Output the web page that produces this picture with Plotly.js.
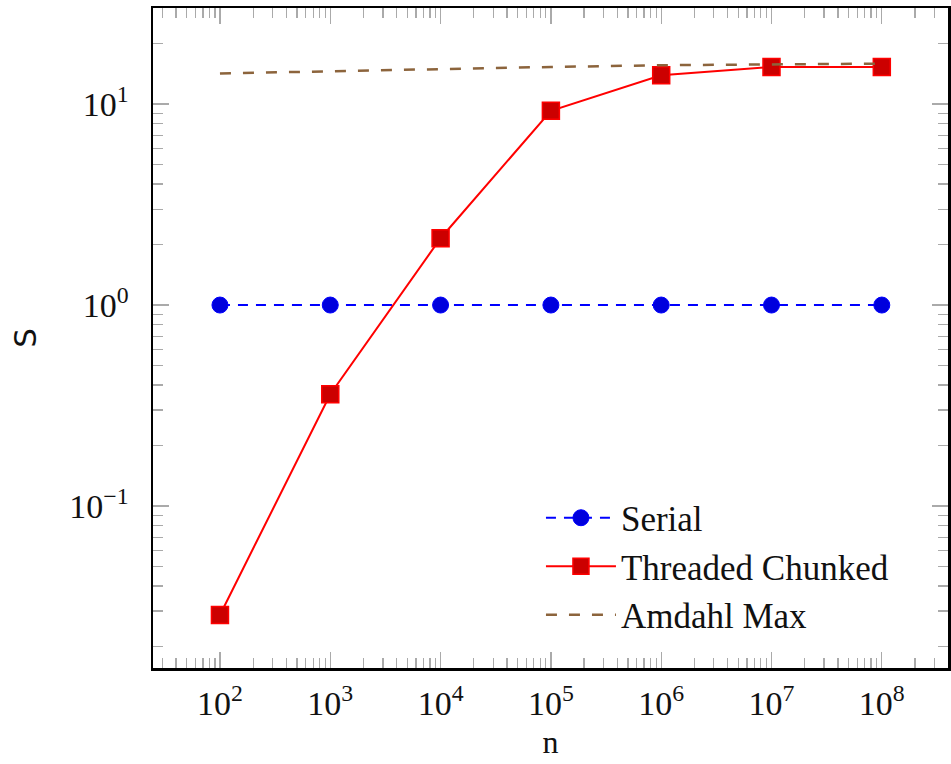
<!DOCTYPE html>
<html>
<head>
<meta charset="utf-8">
<script src="https://cdn.plot.ly/plotly-3.0.1.min.js"></script>
<style>html,body{margin:0;padding:0;background:#fff;}#chart{width:951px;height:764px;}</style>
</head>
<body>
<div id="chart"></div>
<script>
const nValues = [1e2, 1e3, 1e4, 1e5, 1e6, 1e7, 1e8];
const serialS = [1, 1, 1, 1, 1, 1, 1];
const threadedS = [0.0287, 0.36, 2.15, 9.25, 13.9, 15.3, 15.3];
const amdahlS = [14.2, 14.6, 14.9, 15.3, 15.6, 15.8, 15.9];
const xTickVals = [1e2, 1e3, 1e4, 1e5, 1e6, 1e7, 1e8];
const xTickText = ['10<sup>2</sup>','10<sup>3</sup>','10<sup>4</sup>','10<sup>5</sup>','10<sup>6</sup>','10<sup>7</sup>','10<sup>8</sup>'];
const yTickVals = [0.1, 1, 10];
const yTickText = ['10<sup>\u22121</sup>','10<sup>0</sup>','10<sup>1</sup>'];

function minorVals(lo, hi) {
  const v = [];
  for (let e = lo; e <= hi; e++) for (let m = 2; m <= 9; m++) v.push(m * Math.pow(10, e));
  return v;
}

const serif = 'Liberation Serif, serif';
const traces = [
  {x: nValues, y: serialS, name: 'Serial', type: 'scatter', mode: 'lines+markers',
   line: {color: '#0000ff', width: 2, dash: '10px,8px'},
   marker: {symbol: 'circle', size: 16, color: '#0000dd', line: {color: '#0000ff', width: 1}}},
  {x: nValues, y: threadedS, name: 'Threaded Chunked', type: 'scatter', mode: 'lines+markers',
   line: {color: '#ff0000', width: 2},
   marker: {symbol: 'square', size: 17, color: '#cc0000', line: {color: '#ff0000', width: 1.5}}},
  {x: nValues, y: amdahlS, name: 'Amdahl Max', type: 'scatter', mode: 'lines',
   line: {color: '#8c643c', width: 2.5, dash: '11px,12px'}}
];

const axisCommon = {
  type: 'log', showgrid: false, zeroline: false, showline: true, linecolor: '#000', linewidth: 2.5,
  mirror: 'allticks', ticks: 'inside', ticklen: 16, tickcolor: '#aaa', tickwidth: 1.3,
  tickfont: {family: serif, size: 34, color: '#111'}, tickmode: 'array'
};

const layout = {
  width: 951, height: 764,
  margin: {l: 153, r: 3, t: 8, b: 96},
  paper_bgcolor: '#fff', plot_bgcolor: '#fff',
  showlegend: true,
  xaxis: Object.assign({}, axisCommon, {
    range: [1.393, 8.6], tickvals: xTickVals, ticktext: xTickText, ticklabelstandoff: 4,
    minor: {tickvals: minorVals(1, 8), ticks: 'inside', ticklen: 10, tickcolor: '#aaa', tickwidth: 1.3},
    title: {text: 'n', font: {family: serif, size: 32, color: '#111'}, standoff: 10}
  }),
  yaxis: Object.assign({}, axisCommon, {
    range: [-1.806, 1.478], tickvals: yTickVals, ticktext: yTickText, ticklabelstandoff: 15,
    minor: {tickvals: minorVals(-2, 1), ticks: 'inside', ticklen: 10, tickcolor: '#aaa', tickwidth: 1.3},
    title: {text: 'S', font: {family: 'DejaVu Sans, sans-serif', size: 31, color: '#111'}, standoff: 24}
  }),
  legend: {x: 0.488, y: 0.272, xanchor: 'left', yanchor: 'top', bgcolor: 'rgba(255,255,255,0)',
    borderwidth: 0, font: {family: serif, size: 35, color: '#111'}, tracegroupgap: 0, itemwidth: 70}
};

Plotly.newPlot('chart', traces, layout, {displayModeBar: false, staticPlot: true});
</script>
</body>
</html>
